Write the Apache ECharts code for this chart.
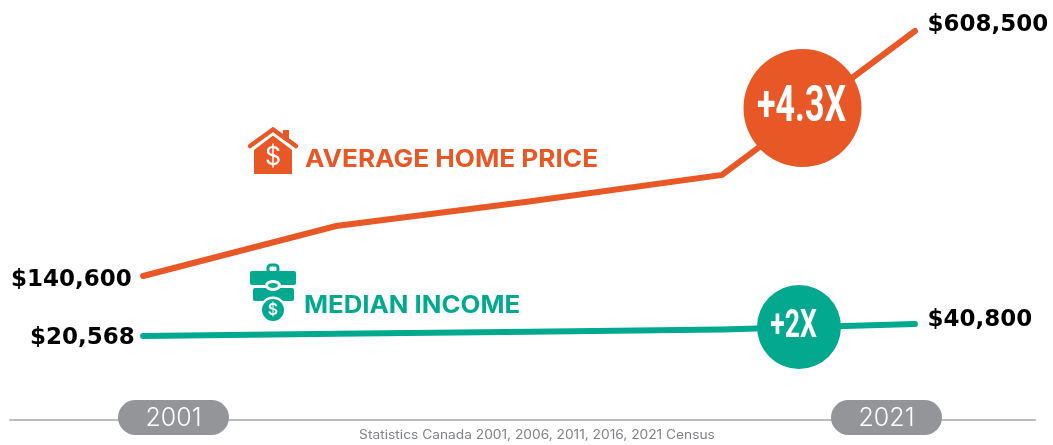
<!DOCTYPE html>
<html>
<head>
<meta charset="utf-8">
<script src="https://cdn.jsdelivr.net/npm/echarts@6/dist/echarts.min.js"></script>
<style>
    html, body { margin: 0; padding: 0; background: #fff; }
    #chart { width: 1053px; height: 445px; }
</style>
</head>
<body>
<div id="chart"></div>
<script>
const years = [2001, 2006, 2011, 2016, 2021];
const homePrice = [140600, 236100, 282900, 333500, 608500];
const medianIncome = [20568, 24300, 28000, 31700, 40800];
const tickYears = ['2001', '2021'];
const source = 'Statistics Canada 2001, 2006, 2011, 2016, 2021 Census';

const ORANGE = '#E85726';
const GREEN = '#02A98E';
const PILL = '#939598';
const FONT = 'Inter, "Noto Sans", sans-serif';

// first and last point carry the dollar label
function endLabels(values, offsetFirst, offsetLast) {
    return values.map(function (v, i) {
        const first = i === 0;
        const last = i === values.length - 1;
        return {
            value: [years[i], v],
            label: {
                show: first || last,
                position: first ? 'left' : 'right',
                offset: first ? offsetFirst : offsetLast
            }
        };
    });
}

function lineSeries(name, values, color, yAxisIndex, offsetFirst, offsetLast) {
    return {
        name: name,
        type: 'line',
        yAxisIndex: yAxisIndex,
        data: endLabels(values, offsetFirst, offsetLast),
        symbol: 'circle',
        symbolSize: 1,
        silent: true,
        lineStyle: { color: color, width: 6, cap: 'round', join: 'miter' },
        itemStyle: { color: color },
        label: {
            distance: 10,
            color: '#000',
            fontFamily: '"DejaVu Sans", sans-serif',
            fontWeight: 700,
            fontSize: 23,
            formatter: function (p) {
                return '$' + p.value[1].toLocaleString('en-US');
            }
        }
    };
}

// white text squeezed into the badge, the original face is a condensed one
function badge(cx, cy, r, color, text, size, shift) {
    return [
        { type: 'circle', z: 100, shape: { cx: cx, cy: cy, r: r }, style: { fill: color } },
        {
            type: 'text', z: 101, x: cx + shift, y: cy, scaleX: 0.68, scaleY: 1,
            style: { text: text, fill: '#fff', font: '700 ' + size + 'px Roboto, sans-serif', align: 'center', verticalAlign: 'middle' }
        }
    ];
}

function pill(cx, text) {
    return [
        { type: 'rect', z: 100, shape: { x: cx - 55.5, y: 400, width: 111, height: 35, r: 17.5 }, style: { fill: PILL } },
        {
            type: 'text', z: 101, x: cx, y: 418,
            style: { text: text, fill: '#fff', font: '300 25px Inter, sans-serif', align: 'center', verticalAlign: 'middle' }
        }
    ];
}

function legendText(x, y, text, color, stretch) {
    return {
        type: 'text', z: 100, x: x, y: y, scaleX: stretch, scaleY: 1,
        style: { text: text, fill: color, font: '700 24px ' + FONT, align: 'left', verticalAlign: 'middle' }
    };
}

const houseIcon = [
    { type: 'polygon', z: 100, shape: { points: [[254, 174], [254, 150], [273, 135.5], [292, 150], [292, 174]] }, style: { fill: ORANGE } },
    { type: 'rect', z: 100, shape: { x: 283, y: 130, width: 6, height: 10 }, style: { fill: ORANGE } },
    { type: 'polyline', z: 100, shape: { points: [[250, 146], [273, 129.5], [296, 146]] }, style: { stroke: ORANGE, fill: null, lineWidth: 4.5, lineCap: 'round' } },
    { type: 'text', z: 101, x: 273, y: 157, style: { text: '$', fill: '#fff', font: '400 25px ' + FONT, align: 'center', verticalAlign: 'middle' } }
];

const caseIcon = [
    { type: 'rect', z: 100, shape: { x: 268, y: 265, width: 10, height: 8, r: 3 }, style: { stroke: GREEN, fill: null, lineWidth: 3 } },
    { type: 'rect', z: 100, shape: { x: 250, y: 271, width: 46, height: 14, r: 2 }, style: { fill: GREEN } },
    { type: 'rect', z: 100, shape: { x: 253, y: 288, width: 41, height: 13, r: 2 }, style: { fill: GREEN } },
    { type: 'ellipse', z: 101, shape: { cx: 273, cy: 285.5, rx: 8, ry: 5.5 }, style: { fill: '#fff' } },
    { type: 'ellipse', z: 102, shape: { cx: 273, cy: 285.5, rx: 5, ry: 2.5 }, style: { fill: GREEN } },
    { type: 'circle', z: 101, shape: { cx: 273, cy: 310, r: 13.5 }, style: { fill: '#fff' } },
    { type: 'circle', z: 102, shape: { cx: 273, cy: 310, r: 11 }, style: { fill: GREEN } },
    { type: 'text', z: 103, x: 273, y: 310, style: { text: '$', fill: '#fff', font: '600 16px ' + FONT, align: 'center', verticalAlign: 'middle' } }
];

const chart = echarts.init(document.getElementById('chart'), null, { renderer: 'canvas' });
chart.setOption({
    animation: false,
    backgroundColor: '#fff',
    grid: { left: 10, right: 18, top: 10, bottom: 25 },
    xAxis: {
        type: 'value',
        min: 1997.55,
        max: 2024.11,
        splitLine: { show: false },
        axisTick: { show: false },
        axisLabel: { show: false },
        axisLine: { show: true, onZero: false, lineStyle: { color: '#BCBDC0', width: 2 } }
    },
    yAxis: [
        { type: 'value', show: false, min: -134400, max: 648600, splitLine: { show: false } },
        { type: 'value', show: false, min: -121000, max: 570300, splitLine: { show: false } }
    ],
    series: [
        lineSeries('Average home price', homePrice, ORANGE, 0, [-1, 4], [2, -6]),
        lineSeries('Median income', medianIncome, GREEN, 1, [2, 2], [2, -4])
    ],
    graphic: [].concat(
        badge(802.5, 108, 59, ORANGE, '+4.3X', 50, -1),
        badge(799, 327, 42, GREEN, '+2X', 39, -5.5),
        pill(173.5, tickYears[0]),
        pill(886.5, tickYears[1]),
        houseIcon,
        caseIcon,
        [
            legendText(305, 159.5, 'AVERAGE HOME PRICE', ORANGE, 1.09),
            legendText(304, 305.5, 'MEDIAN INCOME', GREEN, 1.075),
            {
                type: 'text', z: 100, x: 537, y: 435, scaleX: 1.1, scaleY: 1,
                style: { text: source, fill: '#808285', font: '400 12.5px ' + FONT, align: 'center', verticalAlign: 'middle' }
            }
        ]
    )
});
</script>
</body>
</html>
